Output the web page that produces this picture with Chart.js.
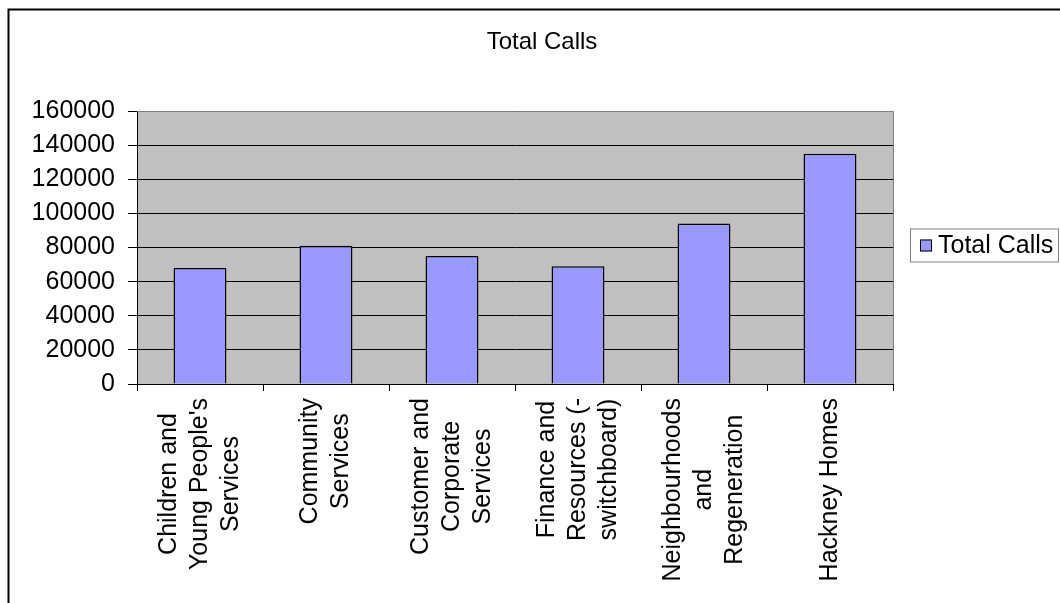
<!DOCTYPE html>
<html>
<head>
<meta charset="utf-8">
<script src="https://cdn.jsdelivr.net/npm/chart.js@4/dist/chart.umd.min.js"></script>
<style>
  html, body { margin: 0; padding: 0; background: #fff; }
  #wrap { width: 1060px; height: 603px; }
</style>
</head>
<body>
<div id="wrap"><canvas id="diagram"></canvas></div>
<script>
// category names, one entry per wrapped line
const categories = [
  ["Children and", "Young People's", "Services"],
  ["Community", "Services"],
  ["Customer and", "Corporate", "Services"],
  ["Finance and", "Resources (-", "switchboard)"],
  ["Neighbourhoods", "and", "Regeneration"],
  ["Hackney Homes"]
];
const totalCalls = [68000, 81000, 75000, 69000, 94000, 135000];
const yTicks = [0, 20000, 40000, 60000, 80000, 100000, 120000, 140000, 160000];
const seriesName = "Total Calls";
const chartTitle = "Total Calls";

const FONT = '"Liberation Sans", Arial, sans-serif';
const BAR_FILL = "#9999FF";

const frame = {
  id: "frame",
  beforeDraw(chart) {
    const { ctx, chartArea: a } = chart;
    ctx.save();
    ctx.fillStyle = "#fff";
    ctx.fillRect(0, 0, chart.width, chart.height);
    ctx.fillStyle = "#C0C0C0";
    ctx.fillRect(a.left, a.top, a.right - a.left, a.bottom - a.top);
    ctx.restore();
  },
  afterDraw(chart) {
    const { ctx, chartArea: a } = chart;
    const xs = chart.scales.x;
    ctx.save();

    // grey edge of the plot area, top and right
    ctx.strokeStyle = "#808080";
    ctx.lineWidth = 1;
    ctx.beginPath();
    ctx.moveTo(a.left, a.top + 0.5);
    ctx.lineTo(a.right + 0.5, a.top + 0.5);
    ctx.lineTo(a.right + 0.5, a.bottom);
    ctx.stroke();

    // outer chart border
    ctx.strokeStyle = "#000";
    ctx.lineWidth = 2;
    ctx.strokeRect(8.5, 9.5, 2000, 2000);

    ctx.fillStyle = "#000";
    ctx.textAlign = "center";
    ctx.textBaseline = "middle";

    // title
    ctx.font = "24px " + FONT;
    ctx.fillText(chartTitle, 542, 42);

    // category labels, rotated, lines centred on each other
    ctx.font = "25px " + FONT;
    categories.forEach((lines, i) => {
      const x = xs.getPixelForValue(i);
      const w = Math.max(...lines.map(s => ctx.measureText(s).width));
      const cy = xs.top + 14 + w / 2;
      lines.forEach((s, k) => {
        ctx.save();
        ctx.translate(x + (k - (lines.length - 1) / 2) * 31, cy);
        ctx.rotate(-Math.PI / 2);
        ctx.fillText(s, 0, 0);
        ctx.restore();
      });
    });

    // legend
    const ly = (a.top + a.bottom) / 2 - 2;
    ctx.strokeStyle = "#808080";
    ctx.lineWidth = 1;
    ctx.strokeRect(910.5, ly - 16.5, 148, 33);
    ctx.fillStyle = BAR_FILL;
    ctx.fillRect(920, ly - 6, 12, 12);
    ctx.strokeStyle = "#000";
    ctx.strokeRect(920.5, ly - 5.5, 11, 11);
    ctx.fillStyle = "#000";
    ctx.textAlign = "left";
    ctx.fillText(seriesName, 938, ly + 1);

    ctx.restore();
  }
};

new Chart(document.getElementById("diagram"), {
  type: "bar",
  data: {
    labels: categories.map(c => c.join(" ")),
    datasets: [{
      label: seriesName,
      data: totalCalls,
      backgroundColor: BAR_FILL,
      borderColor: "#000",
      borderWidth: 1.5,
      barPercentage: 0.42,
      categoryPercentage: 1
    }]
  },
  options: {
    responsive: true,
    maintainAspectRatio: false,
    animation: false,
    layout: { padding: { left: 0, top: 111, right: 167, bottom: 0 } },
    plugins: {
      legend: { display: false },
      title: { display: false },
      tooltip: { enabled: false }
    },
    scales: {
      x: {
        afterFit: s => { s.height = 219; },
        ticks: { display: false },
        grid: {
          offset: true,
          drawOnChartArea: false,
          tickLength: 7,
          color: "#000"
        },
        border: { color: "#000", width: 1 }
      },
      y: {
        min: yTicks[0],
        max: yTicks[yTicks.length - 1],
        afterFit: s => { s.width = 137; },
        afterBuildTicks: s => { s.ticks = yTicks.map(v => ({ value: v })); },
        ticks: {
          padding: 13,
          color: "#000",
          font: { family: FONT, size: 25 },
          callback: v => String(v)
        },
        grid: {
          color: "#000",
          tickColor: "#000",
          tickLength: 9
        },
        border: { color: "#000", width: 1 }
      }
    }
  },
  plugins: [frame]
});
</script>
</body>
</html>
